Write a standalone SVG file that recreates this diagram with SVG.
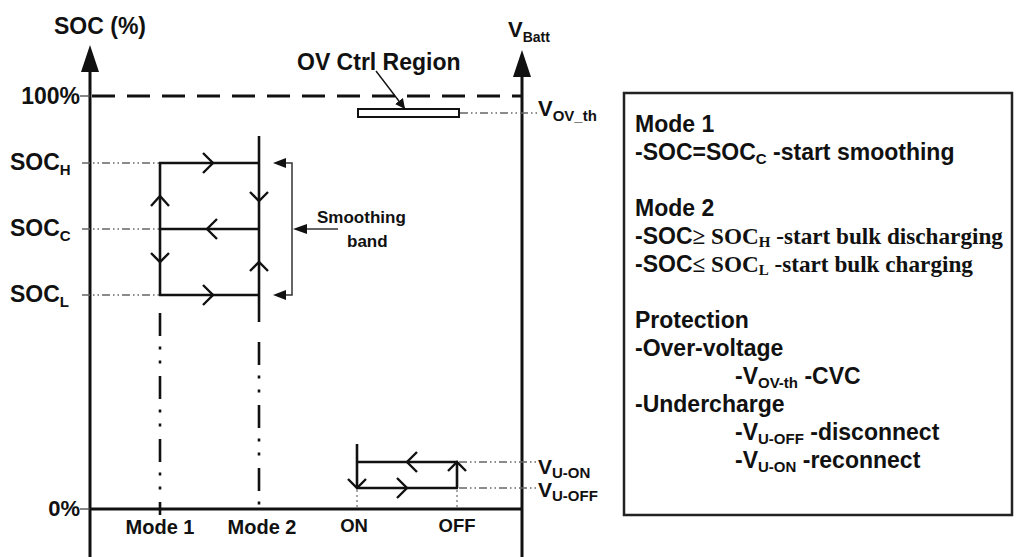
<svg xmlns="http://www.w3.org/2000/svg" width="1020" height="557" viewBox="0 0 1020 557">
<defs>
<style>
text{font-family:"Liberation Sans",Arial,sans-serif;font-weight:bold;fill:#111}
.serif{font-family:"Liberation Serif","Times New Roman",serif;font-weight:bold}
.axis{stroke:#111;stroke-width:3;fill:none}
.thick{stroke:#111;stroke-width:2.6;fill:none}
.chev{stroke:#111;stroke-width:2.4;fill:none;stroke-linejoin:miter}
.guide{stroke:#666;stroke-width:1.3;fill:none;stroke-dasharray:8 3 1.5 3 1.5 3}
.dotv{stroke:#777;stroke-width:1.3;fill:none;stroke-dasharray:2 3}
.dashdot{stroke:#111;stroke-width:2.6;fill:none;stroke-dasharray:23 10.5 3 11 3 12.5}
.band{stroke:#333;stroke-width:1.5;fill:none}
</style>
<marker id="fillArrow" viewBox="0 0 10 10" refX="10" refY="5" markerWidth="10" markerHeight="10" markerUnits="userSpaceOnUse" orient="auto">
<path d="M0,0 L10,5 L0,10 Z" fill="#111"/>
</marker>
</defs>
<rect width="1020" height="557" fill="#fff"/>

<g id="soc-axis">
<line class="axis" x1="90" y1="68" x2="90" y2="557"/>
<polygon points="90,45 81,72 99,72" fill="#111"/>
<text x="100" y="34" font-size="23" text-anchor="middle">SOC (%)</text>
<line x1="80" y1="96" x2="90" y2="96" stroke="#444" stroke-width="1.3"/>
<text x="80" y="104" font-size="23" text-anchor="end">100%</text>
<line x1="80" y1="509" x2="90" y2="509" stroke="#444" stroke-width="1.3"/>
<line class="axis" x1="90" y1="509" x2="522" y2="509"/>
<text x="80" y="516" font-size="22" text-anchor="end">0%</text>
<line x1="92" y1="96" x2="522" y2="96" stroke="#111" stroke-width="3" stroke-dasharray="23 12"/>
</g>

<g id="vbatt-axis">
<line class="axis" x1="522" y1="72" x2="522" y2="557"/>
<polygon points="522,50 513,77 531,77" fill="#111"/>
<text x="508" y="37" font-size="22">V<tspan font-size="14" dy="5">Batt</tspan></text>
</g>

<g id="soc-levels">
<line class="guide" x1="82" y1="163" x2="160" y2="163"/>
<line class="guide" x1="82" y1="229" x2="160" y2="229"/>
<line class="guide" x1="82" y1="295" x2="160" y2="295"/>
<text x="10" y="170" font-size="23">SOC<tspan font-size="15" dy="5">H</tspan></text>
<text x="10" y="236" font-size="23">SOC<tspan font-size="15" dy="5">C</tspan></text>
<text x="10" y="302" font-size="23">SOC<tspan font-size="15" dy="5">L</tspan></text>
</g>

<g id="mode-loop">
<line class="thick" x1="160" y1="163" x2="160" y2="295"/>
<line class="thick" x1="259" y1="136" x2="259" y2="322"/>
<line class="thick" x1="159" y1="163" x2="259" y2="163"/>
<line class="thick" x1="159" y1="229" x2="259" y2="229"/>
<line class="thick" x1="159" y1="295" x2="259" y2="295"/>
<path class="chev" d="M203,153 L213,163 L203,173"/>
<path class="chev" d="M217,219 L207,229 L217,239"/>
<path class="chev" d="M203,285 L213,295 L203,305"/>
<path class="chev" d="M151,206 L160,196 L169,206"/>
<path class="chev" d="M151,253 L160,262 L169,253"/>
<path class="chev" d="M250,192 L259,201 L268,192"/>
<path class="chev" d="M250,271 L259,262 L268,271"/>
<line class="dashdot" x1="160" y1="313" x2="160" y2="515"/>
<line class="dashdot" x1="259" y1="342" x2="259" y2="515"/>
<text x="160" y="534" font-size="20" text-anchor="middle">Mode 1</text>
<text x="262" y="534" font-size="20" text-anchor="middle">Mode 2</text>
</g>

<g id="smoothing-band">
<path class="band" d="M284,163 L292,163 L292,295 L284,295"/>
<polygon points="273,163 286,158 286,168" fill="#111"/>
<polygon points="273,295 286,290 286,300" fill="#111"/>
<line class="band" x1="305" y1="229" x2="338" y2="229"/>
<polygon points="293,229 307,224 307,234" fill="#111"/>
<text x="317" y="223" font-size="17">Smoothing</text>
<text x="347" y="247" font-size="17">band</text>
</g>

<g id="ov-region">
<text x="297" y="70" font-size="23">OV Ctrl Region</text>
<rect x="358" y="109" width="101" height="8" fill="#fff" stroke="#111" stroke-width="2"/>
<line x1="376" y1="71" x2="405" y2="109" stroke="#111" stroke-width="1.4" marker-end="url(#fillArrow)"/>
<line class="guide" x1="460" y1="113" x2="537" y2="113"/>
<text x="538" y="116" font-size="22">V<tspan font-size="15" dy="5">OV_th</tspan></text>
</g>

<g id="uv-loop">
<line class="thick" x1="357" y1="444" x2="357" y2="488"/>
<line class="thick" x1="457" y1="462" x2="457" y2="488"/>
<line class="thick" x1="356" y1="462" x2="458" y2="462"/>
<line class="thick" x1="356" y1="488" x2="458" y2="488"/>
<path class="chev" d="M417,452 L407,462 L417,472"/>
<path class="chev" d="M397,478 L407,488 L397,498"/>
<path class="chev" d="M348,479 L357,488 L366,479"/>
<path class="chev" d="M448,471 L457,462 L466,471"/>
<line class="dotv" x1="357" y1="490" x2="357" y2="509"/>
<line class="dotv" x1="457" y1="490" x2="457" y2="509"/>
<line class="guide" x1="459" y1="462" x2="537" y2="462"/>
<line class="guide" x1="459" y1="488" x2="537" y2="488"/>
<text x="538" y="474" font-size="21">V<tspan font-size="15" dy="4">U-ON</tspan></text>
<text x="538" y="497" font-size="21">V<tspan font-size="15" dy="4">U-OFF</tspan></text>
<text x="354" y="532" font-size="18.5" text-anchor="middle">ON</text>
<text x="457" y="532" font-size="18.5" text-anchor="middle">OFF</text>
</g>

<g id="legend">
<rect x="624" y="93" width="388" height="422" fill="#fff" stroke="#222" stroke-width="2.5"/>
<text x="635" y="132" font-size="23">Mode 1</text>
<text x="635" y="160" font-size="23">-SOC=SOC<tspan font-size="15" dy="4">C</tspan><tspan dy="-4"> -start smoothing</tspan></text>
<text x="635" y="216" font-size="23">Mode 2</text>
<text x="635" y="244" font-size="23">-SOC<tspan class="serif" font-size="23.2">≥ SOC</tspan><tspan class="serif" font-size="15" dy="3">H</tspan><tspan class="serif" font-size="23.2" dy="-3"> -start bulk discharging</tspan></text>
<text x="635" y="272" font-size="23">-SOC<tspan class="serif" font-size="23.2">≤ SOC</tspan><tspan class="serif" font-size="15" dy="3">L</tspan><tspan class="serif" font-size="23.2" dy="-3"> -start bulk charging</tspan></text>
<text x="635" y="328" font-size="23">Protection</text>
<text x="635" y="356" font-size="23">-Over-voltage</text>
<text x="735" y="384" font-size="23">-V<tspan font-size="15" dy="4">OV-th</tspan><tspan dy="-4"> -CVC</tspan></text>
<text x="635" y="412" font-size="23">-Undercharge</text>
<text x="735" y="440" font-size="23">-V<tspan font-size="15" dy="4">U-OFF</tspan><tspan dy="-4"> -disconnect</tspan></text>
<text x="735" y="468" font-size="23">-V<tspan font-size="15" dy="4">U-ON</tspan><tspan dy="-4"> -reconnect</tspan></text>
</g>
</svg>
